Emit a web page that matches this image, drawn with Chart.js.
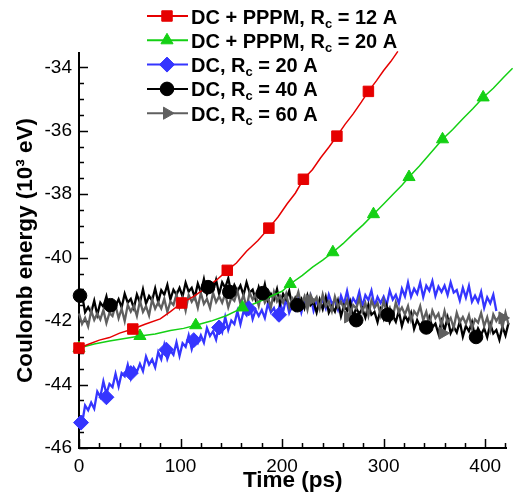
<!DOCTYPE html>
<html>
<head>
<meta charset="utf-8">
<script src="https://cdn.jsdelivr.net/npm/chart.js@4.4.0/dist/chart.umd.min.js"></script>
<style>
  html, body { margin: 0; padding: 0; background: #fff; }
  #wrap { width: 515px; height: 498px; }
</style>
</head>
<body>
<div id="wrap"><canvas id="coulomb" width="515" height="498"></canvas></div>
<script>
//1) DATA//
// legend text is split around the subscript "c" of R_c
var labelHead = ['DC + PPPM, R', 'DC + PPPM, R', 'DC, R', 'DC, R', 'DC, R'];
var labelSub = 'c';
var labelTail = [' = 12 A', ' = 20 A', ' = 20 A', ' = 40 A', ' = 60 A'];
var colors = ['#e60000', '#14d014', '#3535ff', '#000000', '#5f5f5f'];

var xTicks = [0, 100, 200, 300, 400];
var yTicks = [-46, -44, -42, -40, -38, -36, -34];
var xTitle = 'Time (ps)';
var yTitle = 'Coulomb energy (10³ eV)';

// DC + PPPM, Rc = 12 A
var redT = [0, 10, 20, 30, 40, 53, 65, 80, 90, 101, 113, 125, 135, 146, 155, 165, 176, 187, 196, 205, 213, 221, 230, 238, 246, 254, 262, 270, 278, 285, 293, 300, 307, 314];
var redY = [-42.85, -42.72, -42.6, -42.52, -42.38, -42.25, -42.1, -41.93, -41.7, -41.43, -41.22, -40.95, -40.72, -40.4, -40.17, -39.8, -39.47, -39.07, -38.72, -38.3, -37.97, -37.53, -37.22, -36.85, -36.52, -36.17, -35.8, -35.47, -35.1, -34.76, -34.42, -34.1, -33.82, -33.5];
var redMarkT = [0, 53, 101, 146, 187, 221, 254, 285];
var redMarkY = [-42.85, -42.25, -41.43, -40.4, -39.07, -37.53, -36.17, -34.76];

// DC + PPPM, Rc = 20 A
var greenT = [0, 15, 30, 45, 60, 75, 90, 103, 115, 130, 145, 160, 175, 190, 200, 208, 220, 230, 240, 250, 260, 270, 280, 290, 300, 310, 318, 325, 335, 345, 358, 368, 378, 388, 398, 408, 418, 427];
var greenY = [-42.85, -42.72, -42.63, -42.55, -42.47, -42.41, -42.3, -42.23, -42.13, -42.0, -41.83, -41.6, -41.42, -41.2, -41.06, -40.83, -40.56, -40.3, -40.08, -39.83, -39.56, -39.25, -38.96, -38.63, -38.31, -37.98, -37.72, -37.46, -37.12, -36.75, -36.27, -35.96, -35.62, -35.3, -34.95, -34.66, -34.32, -34.03];
var greenMarkT = [0, 60, 115, 161, 208, 250, 290, 325, 358, 398];
var greenMarkY = [-42.85, -42.47, -42.13, -41.57, -40.83, -39.83, -38.63, -37.46, -36.27, -34.95];

// noisy runs are sampled every 3 ps
var sampleStep = 3;

// DC, Rc = 20 A
var blueY = [
  -45.20, -45.23, -44.66, -44.81, -44.57, -44.76, -44.22, -44.39, -43.90, -44.29,
  -43.98, -44.08, -43.66, -44.06, -43.64, -43.74, -43.38, -43.80, -43.46, -43.60,
  -43.35, -43.58, -43.12, -43.37, -43.21, -43.46, -42.98, -43.20, -42.75, -43.19,
  -42.93, -43.06, -42.67, -43.10, -42.70, -42.81, -42.45, -42.88, -42.54, -42.69,
  -42.45, -42.68, -42.22, -42.47, -42.32, -42.58, -42.12, -42.35, -41.87, -42.28,
  -41.98, -42.09, -41.69, -42.10, -41.70, -41.82, -41.48, -41.94, -41.65, -41.84,
  -41.65, -41.90, -41.45, -41.72, -41.59, -41.88, -41.44, -41.71, -41.29, -41.74,
  -41.50, -41.65, -41.28, -41.72, -41.35, -41.50, -41.20, -41.67, -41.36, -41.53,
  -41.32, -41.59, -41.17, -41.46, -41.34, -41.63, -41.20, -41.46, -41.05, -41.51,
  -41.28, -41.44, -41.08, -41.54, -41.18, -41.34, -41.04, -41.53, -41.24, -41.43,
  -41.23, -41.49, -41.04, -41.32, -41.17, -41.44, -40.98, -41.22, -40.79, -41.23,
  -40.98, -41.14, -40.78, -41.24, -40.88, -41.04, -40.74, -41.21, -40.91, -41.08,
  -40.88, -41.18, -40.78, -41.10, -41.02, -41.35, -40.95, -41.26, -40.89, -41.39,
  -41.20, -41.40, -41.08, -41.58, -41.25, -41.44, -41.17, -41.68
];
var blueMarkT = [2, 27, 51, 86, 113, 138, 167, 197];
var blueMarkY = [-45.2, -44.4, -43.64, -42.9, -42.6, -42.2, -41.6, -41.8];

// DC, Rc = 40 A
var blackY = [
  -41.25, -41.18, -41.72, -41.56, -41.73, -41.36, -41.80, -41.42, -41.55, -41.22,
  -41.67, -41.36, -41.52, -41.31, -41.57, -41.14, -41.42, -41.30, -41.59, -41.16,
  -41.42, -41.00, -41.45, -41.21, -41.35, -40.97, -41.40, -41.03, -41.17, -40.86,
  -41.32, -41.01, -41.17, -40.95, -41.22, -40.79, -41.07, -40.95, -41.25, -40.82,
  -41.09, -40.68, -41.15, -40.91, -41.06, -40.70, -41.15, -40.78, -40.95, -40.65,
  -41.14, -40.86, -41.06, -40.88, -41.18, -40.78, -41.10, -41.01, -41.33, -40.93,
  -41.22, -40.84, -41.34, -41.14, -41.33, -40.99, -41.47, -41.14, -41.32, -41.05,
  -41.55, -41.27, -41.47, -41.30, -41.59, -41.19, -41.50, -41.40, -41.73, -41.32,
  -41.62, -41.24, -41.73, -41.53, -41.70, -41.36, -41.85, -41.50, -41.67, -41.38,
  -41.87, -41.59, -41.78, -41.60, -41.89, -41.49, -41.80, -41.71, -42.03, -41.63,
  -41.92, -41.53, -42.03, -41.83, -42.02, -41.68, -42.16, -41.82, -42.01, -41.74,
  -42.25, -41.97, -42.17, -41.99, -42.29, -41.88, -42.19, -42.08, -42.40, -41.99,
  -42.28, -41.89, -42.38, -42.18, -42.36, -42.01, -42.49, -42.15, -42.32, -42.03,
  -42.52, -42.23, -42.42, -42.23, -42.51, -42.09, -42.39, -42.28, -42.59, -42.17,
  -42.45, -42.06, -42.56
];
var blackMarkT = [1, 31, 127, 148, 181, 215, 273, 304, 342, 391];
var blackMarkY = [-41.2, -41.5, -40.93, -41.08, -41.12, -41.5, -41.97, -41.8, -42.2, -42.5];

// DC, Rc = 60 A
var grayY = [
  -41.76, -42.09, -41.90, -42.17, -41.67, -41.96, -41.76, -41.95, -41.65, -42.06,
  -41.74, -41.84, -41.51, -41.91, -41.61, -42.00, -41.49, -41.70, -41.51, -41.84,
  -41.36, -41.71, -41.53, -41.82, -41.32, -41.61, -41.41, -41.60, -41.30, -41.71,
  -41.39, -41.49, -41.16, -41.56, -41.27, -41.67, -41.18, -41.39, -41.22, -41.58,
  -41.11, -41.46, -41.30, -41.59, -41.11, -41.40, -41.22, -41.42, -41.14, -41.56,
  -41.26, -41.36, -41.05, -41.46, -41.18, -41.58, -41.10, -41.32, -41.16, -41.52,
  -41.06, -41.42, -41.26, -41.56, -41.08, -41.38, -41.21, -41.42, -41.14, -41.57,
  -41.27, -41.39, -41.08, -41.51, -41.23, -41.64, -41.17, -41.39, -41.24, -41.61,
  -41.16, -41.53, -41.38, -41.69, -41.23, -41.55, -41.39, -41.61, -41.34, -41.78,
  -41.49, -41.60, -41.29, -41.71, -41.43, -41.83, -41.35, -41.58, -41.43, -41.81,
  -41.36, -41.72, -41.57, -41.88, -41.41, -41.73, -41.57, -41.79, -41.53, -41.97,
  -41.69, -41.82, -41.53, -41.97, -41.71, -42.13, -41.67, -41.91, -41.76, -42.13,
  -41.68, -42.05, -41.90, -42.21, -41.74, -42.04, -41.87, -42.08, -41.81, -42.23,
  -41.94, -42.05, -41.74, -42.16, -41.88, -42.28, -41.79, -42.00, -41.84, -42.20,
  -41.74, -42.11, -41.96
];
var grayMarkT = [227, 265, 358, 417];
var grayMarkY = [-41.35, -41.87, -42.38, -41.9];

//2) HELPERS//
function pairs(ts, ys) {
   return ys.map(function (y, i) { return { x: ts[i], y: y }; });
}
function sampled(ys) {
   return ys.map(function (y, i) { return { x: i * sampleStep, y: y }; });
}
function lineSet(label, data, color, width, order) {
   return {
      label: label, data: data, borderColor: color, borderWidth: width,
      pointRadius: 0, fill: false, tension: 0, clip: false, order: order,
      borderJoinStyle: 'miter'
   };
}
function markSet(label, data, color, style, radius, rotation) {
   return {
      label: label, data: data, showLine: false, pointStyle: style,
      pointRadius: radius, pointRotation: rotation || 0,
      backgroundColor: color, borderColor: color, borderWidth: 1,
      clip: false, order: 0
   };
}
var markerStyle = [
   { style: 'rect', radius: 7.4, rotation: 0 },
   { style: 'triangle', radius: 7, rotation: 0 },
   { style: 'rectRot', radius: 7.5, rotation: 0 },
   { style: 'circle', radius: 6.8, rotation: 0 },
   { style: 'triangle', radius: 7, rotation: 90 }
];

//3) PLUGINS: inward ticks + legend with subscript//
var inwardTicks = {
   id: 'inwardTicks',
   beforeDatasetsDraw: function (chart) {
      var ctx = chart.ctx, xs = chart.scales.x, ys = chart.scales.y, a = chart.chartArea;
      ctx.save();
      ctx.strokeStyle = '#000';
      ctx.lineWidth = 1.5;
      ctx.beginPath();
      for (var v = 0; v <= xs.max; v += 20) {
         var px = Math.round(xs.getPixelForValue(v)) + 0.5;
         var len = (v % 100 === 0) ? 9 : 5;
         ctx.moveTo(px, a.bottom);
         ctx.lineTo(px, a.bottom - len);
      }
      for (var w = ys.min; w <= ys.max; w += 0.5) {
         var py = Math.round(ys.getPixelForValue(w)) + 0.5;
         var l = (Math.abs(w % 2) < 1e-6) ? 9 : 5;
         ctx.moveTo(a.left, py);
         ctx.lineTo(a.left + l, py);
      }
      ctx.stroke();
      ctx.restore();
   }
};

var legendRows = {
   id: 'legendRows',
   afterDraw: function (chart) {
      var ctx = chart.ctx;
      ctx.save();
      for (var i = 0; i < labelHead.length; i++) {
         var y = 16 + i * 24.3;
         ctx.strokeStyle = colors[i];
         ctx.lineWidth = 2;
         ctx.beginPath();
         ctx.moveTo(147, y);
         ctx.lineTo(188, y);
         ctx.stroke();
         ctx.fillStyle = colors[i];
         ctx.lineWidth = 1;
         Chart.helpers.drawPoint(ctx, {
            pointStyle: markerStyle[i].style, radius: markerStyle[i].radius,
            rotation: markerStyle[i].rotation, borderWidth: 1
         }, 167, y);

         ctx.fillStyle = '#000';
         ctx.textBaseline = 'alphabetic';
         ctx.textAlign = 'left';
         var x = 191;
         ctx.font = 'bold 20px "Liberation Sans", Arial, sans-serif';
         ctx.fillText(labelHead[i], x, y + 7.5);
         x += ctx.measureText(labelHead[i]).width;
         ctx.font = 'bold 13px "Liberation Sans", Arial, sans-serif';
         ctx.fillText(labelSub, x, y + 11.5);
         x += ctx.measureText(labelSub).width;
         ctx.font = 'bold 20px "Liberation Sans", Arial, sans-serif';
         ctx.fillText(labelTail[i], x, y + 7.5);
      }
      ctx.restore();
   }
};

//4) CHART//
Chart.defaults.color = '#000';
Chart.defaults.font.family = '"Liberation Sans", Arial, sans-serif';

var ctx_coulomb = document.getElementById('coulomb').getContext('2d');
var coulombChart = new Chart(ctx_coulomb, {
   type: 'line',
   data: {
      datasets: [
         markSet(labelHead[0], pairs(redMarkT, redMarkY), colors[0], 'rect', 7.4),
         markSet(labelHead[1], pairs(greenMarkT, greenMarkY), colors[1], 'triangle', 7),
         markSet(labelHead[2], pairs(blueMarkT, blueMarkY), colors[2], 'rectRot', 7.5),
         markSet(labelHead[3], pairs(blackMarkT, blackMarkY), colors[3], 'circle', 6.8),
         markSet(labelHead[4], pairs(grayMarkT, grayMarkY), colors[4], 'triangle', 7, 90),
         lineSet(labelHead[0], pairs(redT, redY), colors[0], 1.5, 5),
         lineSet(labelHead[1], pairs(greenT, greenY), colors[1], 1.5, 6),
         lineSet(labelHead[4], sampled(grayY), colors[4], 2.3, 7),
         lineSet(labelHead[3], sampled(blackY), colors[3], 2.3, 8),
         lineSet(labelHead[2], sampled(blueY), colors[2], 2.3, 9)
      ]
   },
   options: {
      responsive: false,
      animation: false,
      devicePixelRatio: 1,
      layout: { padding: { top: 53, right: 8, left: 0, bottom: 0 } },
      plugins: {
         legend: { display: false },
         tooltip: { enabled: false }
      },
      scales: {
         x: {
            type: 'linear',
            min: 0,
            max: 421,
            afterBuildTicks: function (scale) {
               scale.ticks = xTicks.map(function (v) { return { value: v }; });
            },
            afterFit: function (scale) { scale.height = 50; },
            grid: { display: false, drawTicks: false },
            border: { display: true, color: '#000', width: 2 },
            ticks: { font: { size: 19 }, padding: 7, maxRotation: 0, autoSkip: false },
            title: {
               display: true, text: xTitle,
               font: { size: 22.5, weight: 'bold' },
               padding: { top: 0, bottom: 4 }
            }
         },
         y: {
            type: 'linear',
            min: -46,
            max: -33.55,
            afterBuildTicks: function (scale) {
               scale.ticks = yTicks.map(function (v) { return { value: v }; });
            },
            afterFit: function (scale) { scale.width = 79; },
            grid: { display: false, drawTicks: false },
            border: { display: true, color: '#000', width: 2 },
            ticks: { font: { size: 19 }, padding: 7, autoSkip: false },
            title: {
               display: true, text: yTitle,
               font: { size: 22.5, weight: 'bold' },
               padding: { top: 12, bottom: 0 }
            }
         }
      }
   },
   plugins: [inwardTicks, legendRows]
});
</script>
</body>
</html>
